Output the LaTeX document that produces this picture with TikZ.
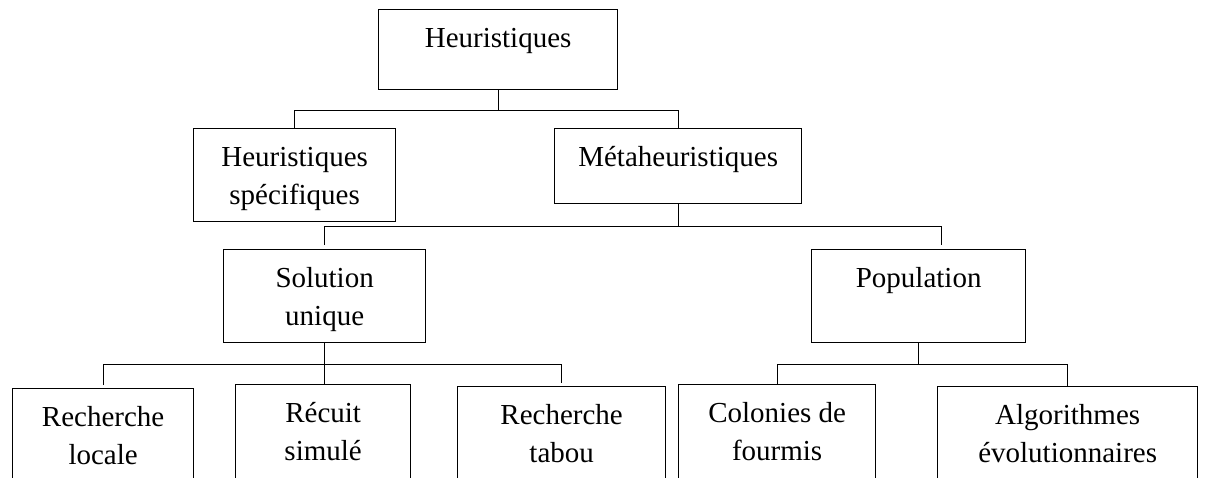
\documentclass[tikz,border=0pt]{standalone}
\usepackage{fontspec}
\setmainfont{Liberation Serif}
% Box label: fixed-size parbox, text centred and hung from the top edge
\newcommand{\boxlabel}[3]{\parbox[c][#2pt][t]{#1pt}{\centering\fontsize{29}{38}\selectfont\rule{0pt}{38pt}#3}}
\begin{document}
\begin{tikzpicture}[x=1pt,y=-1pt,
  box/.style={draw, line width=1.3pt, inner sep=0pt, anchor=north west},
  link/.style={line width=1.3pt}]
\useasboundingbox (0,0) rectangle (1205,477);
\clip (0,0) rectangle (1205,477);

% Level 0
\node[box] (h)  at (378,9)   {\boxlabel{239}{80}{Heuristiques}};
% Level 1
\node[box] (hs) at (193,128) {\boxlabel{202}{93}{Heuristiques\\spécifiques}};
\node[box] (m)  at (554,128) {\boxlabel{247}{75}{Métaheuristiques}};
% Level 2
\node[box] (s)  at (223,249) {\boxlabel{202}{93}{Solution\\unique}};
\node[box] (p)  at (811,249) {\boxlabel{214}{93}{Population}};
% Level 3
\node[box] (rl) at (12,388)  {\boxlabel{181}{100}{Recherche\\locale}};
\node[box] (rs) at (235,384) {\boxlabel{175}{100}{Récuit\\simulé}};
\node[box] (rt) at (457,386) {\boxlabel{208}{100}{Recherche\\tabou}};
\node[box] (cf) at (678,384) {\boxlabel{197}{100}{Colonies de\\fourmis}};
\node[box] (ae) at (937,386) {\boxlabel{260}{100}{Algorithmes\\évolutionnaires}};

% Heuristiques -> two families
\draw[link] (h.south) -- ++(0,20) coordinate (b1);
\draw[link] (hs.north) |- (b1) -| (m.north);

% Métaheuristiques -> single solution / population
\draw[link] (m.south) -- ++(0,22) coordinate (b2);
\draw[link, shorten <=4pt, shorten >=4pt] (s.north) |- (b2) -| ([xshift=23pt]p.north);

% Solution unique -> three methods
\draw[link] (s.south) -- (s.south |- rs.north);
\path (s.south) ++(0,21) coordinate (b3);
\draw[link, shorten <=3pt, shorten >=3pt] (rl.north) |- (b3) -| (rt.north);

% Population -> two methods
\draw[link] (p.south) -- ++(0,21) coordinate (b4);
\draw[link] (cf.north) |- (b4) -| (ae.north);
\end{tikzpicture}
\end{document}
